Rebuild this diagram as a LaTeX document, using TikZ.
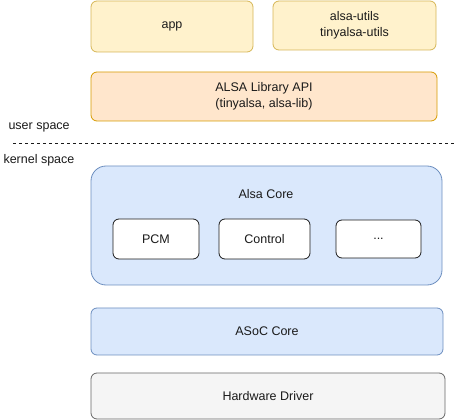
\documentclass[tikz,border=0pt]{standalone}
\usepackage{fontspec}
\setmainfont{Liberation Sans}
\usetikzlibrary{positioning}

\definecolor{yfill}{HTML}{FFF2CC}
\definecolor{ydraw}{HTML}{D6B656}
\definecolor{ofill}{HTML}{FFE6CC}
\definecolor{odraw}{HTML}{D79B00}
\definecolor{bfill}{HTML}{DAE8FC}
\definecolor{bdraw}{HTML}{6C8EBF}
\definecolor{gfill}{HTML}{F5F5F5}
\definecolor{gdraw}{HTML}{666666}
\definecolor{txt}{HTML}{1A1A1A}

\tikzset{
  layer/.style={draw, rounded corners=6pt, line width=0.8pt, inner sep=0pt, align=center, text=txt},
  user/.style={layer, fill=yfill, draw=ydraw},
  lib/.style={layer, fill=ofill, draw=odraw},
  kern/.style={layer, fill=bfill, draw=bdraw},
  hw/.style={layer, fill=gfill, draw=gdraw},
  part/.style={layer, fill=white, draw=txt, minimum width=86pt, minimum height=40pt}
}

\begin{document}
\begin{tikzpicture}[x=1pt, y=-1pt, font=\fontsize{12.5}{16}\selectfont]
\useasboundingbox (0,0) rectangle (459,420);
\node[user, minimum width=162pt, minimum height=51pt] (app) at (172,26.5) {app};
\node[user, minimum width=163pt, minimum height=49pt] (utils) at (354.5,25.5) {alsa-utils\\tinyalsa-utils};
\node[lib, minimum width=346pt, minimum height=49pt] (alsalib) at (264,96.5) {ALSA Library API\\(tinyalsa, alsa-lib)};

\node[anchor=west, text=txt] (user) at (5,127) {user space};
\node[anchor=west, text=txt] (kernel) at (0,160) {kernel space};
\coordinate (dl) at (13,143);
\coordinate (dr) at (455,143);
\draw[txt, line width=0.8pt, dash pattern=on 3pt off 3pt] (dl) -- (dr);

\node[kern, rounded corners=15pt, minimum width=351pt, minimum height=119pt] (core) at (266.5,225.5) {};
\node[text=txt] (corelabel) at (266,194) {Alsa Core};
\node[part] (pcm) at (156,239) {PCM};
\node[part, minimum width=91pt] (control) at (264.5,239) {Control};
\node[part, minimum width=85pt, minimum height=38pt] (more) at (378.5,239) {...};

\node[kern, minimum width=352pt, minimum height=47pt] (asoc) at (267,331.5) {ASoC Core};
\node[hw, minimum width=354pt, minimum height=46pt] (driver) at (268,396) {Hardware Driver};
\end{tikzpicture}
\end{document}
